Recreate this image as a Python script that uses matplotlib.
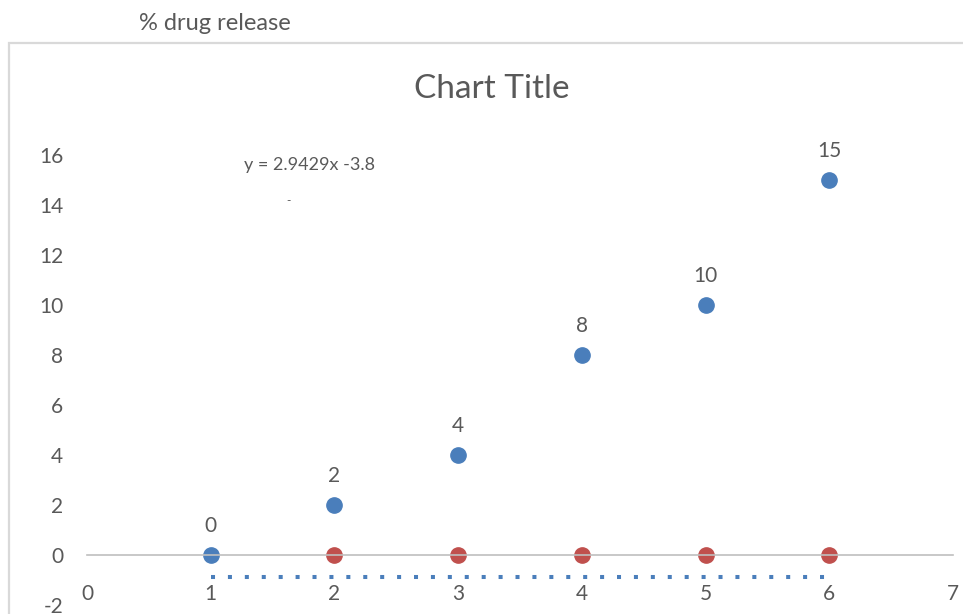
import matplotlib.pyplot as plt

plt.rcParams['font.family'] = ['Lato', 'DejaVu Sans']
plt.rcParams['axes.unicode_minus'] = False

# release data
time_pts = [1, 2, 3, 4, 5, 6]
release = [0, 2, 4, 8, 10, 15]
blank_x = [2, 3, 4, 5, 6]
blank_y = [0, 0, 0, 0, 0]
base_x = [1, 6]
base_y = [-0.86, -0.86]
x_ticks = [0, 1, 2, 3, 4, 5, 6, 7]
y_ticks = [-2, 0, 2, 4, 6, 8, 10, 12, 14, 16]
equation = "y = 2.9429x -3.8"
r2_text = "R² = 0.9746"

BLUE = '#4A7EBB'
RED = '#C0504D'
TXT = '#595959'

W, H = 963, 614
fig = plt.figure(figsize=(W / 100, H / 100), dpi=100)

# pixel helpers for placing the axes box
x0_px, x7_px = 87, 953
y0_px, unit_py = 555, 25.0
ymin = -(H - y0_px) / unit_py
ytop = 16.6
top_px = y0_px - ytop * unit_py
ax = fig.add_axes([x0_px / W, 0, (x7_px - x0_px) / W, (H - top_px) / H])
ax.set_xlim(0, 7)
ax.set_ylim(ymin, ytop)

# chart area border
fig.patches.append(plt.Rectangle((9 / W, -0.1), 1.2, (H - 43) / H + 0.1,
                                 transform=fig.transFigure, fill=False,
                                 edgecolor='#D9D9D9', linewidth=1.6))

for s in ['left', 'right', 'top']:
    ax.spines[s].set_visible(False)
ax.spines['bottom'].set_position(('data', 0))
ax.spines['bottom'].set_color('#BFBFBF')
ax.spines['bottom'].set_linewidth(1.2)

ax.set_xticks(x_ticks)
ax.set_yticks(y_ticks)
ax.tick_params(axis='x', length=0, pad=21, labelsize=15, labelcolor=TXT)
ax.tick_params(axis='y', length=0, pad=17, labelsize=15, labelcolor=TXT)

ax.plot(base_x, base_y, color=BLUE, linewidth=2.9, linestyle=(0, (1, 3.2)),
        dash_capstyle='butt', clip_on=False)
ax.plot(time_pts, release, 'o', color=BLUE, markersize=11, clip_on=False)
ax.plot(blank_x, blank_y, 'o', color=RED, markersize=11, clip_on=False)

for x, y in zip(time_pts, release):
    ax.annotate(str(y), (x, y), xytext=(0, 14), textcoords='offset points',
                ha='center', va='bottom', fontsize=15, color=TXT)

ax.text(1.27, 15.6, equation, fontsize=13, color=TXT, va='center', ha='left')
# R² label sits mostly hidden, only its top edge peeks out
ax.text(1.52, 13.80, r2_text, fontsize=13, color=TXT, va='center', ha='left')
ax.add_patch(plt.Rectangle((230 / W, 1 - 232 / H), 200 / W, 31 / H,
                           transform=fig.transFigure, facecolor='white',
                           edgecolor='none', zorder=5))

fig.text(492 / W, 1 - 89 / H, "Chart Title", fontsize=24, color=TXT,
         ha='center', va='center')
fig.text(215 / W, 1 - 24 / H, "% drug release", fontsize=17, color=TXT,
         ha='center', va='center')

fig.savefig('out.png', dpi=100)
